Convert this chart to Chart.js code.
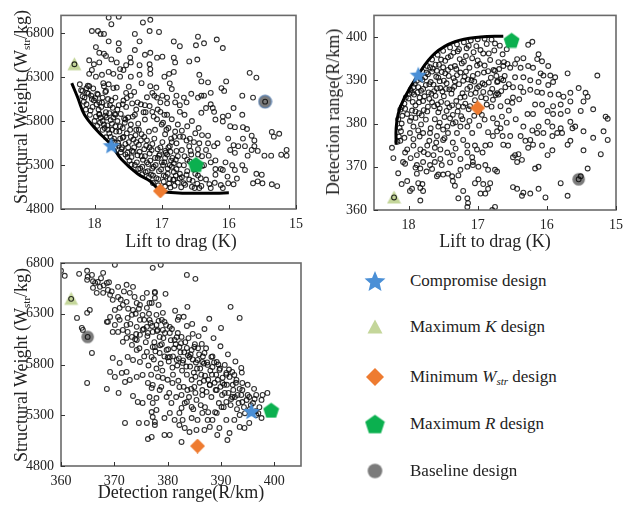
<!DOCTYPE html>
<html>
<head>
<meta charset="utf-8">
<script src="https://cdn.jsdelivr.net/npm/chart.js@4.4.1/dist/chart.umd.min.js"></script>
<style>
body { margin: 0; background: #fff; }
#wrap { position: relative; width: 630px; height: 505px; font-family: 'Liberation Serif', serif; color: #222; }
canvas.plot { position: absolute; }
.xt { position: absolute; transform: translateX(-50%); white-space: nowrap; font-size: 18px; line-height: 1; }
.yt { position: absolute; transform: translate(-50%, -50%) rotate(-90deg); white-space: nowrap; font-size: 18px; line-height: 1; }
.leg { position: absolute; left: 410px; font-size: 17px; line-height: 20px; white-space: nowrap; }
.legmark { position: absolute; left: 363px; }
sub { font-size: 11px; vertical-align: -3px; line-height: 0; }
</style>
</head>
<body>
<div id="wrap">
  <canvas id="chartKW" class="plot" width="310" height="235" style="left:0;top:0"></canvas>
  <canvas id="chartKR" class="plot" width="315" height="235" style="left:315px;top:0"></canvas>
  <canvas id="chartRW" class="plot" width="310" height="260" style="left:0;top:245px"></canvas>

  <div class="yt" style="left:21px;top:107px">Structural Weight (W<sub>str</sub>/kg)</div>
  <div class="xt" style="left:181px;top:232px">Lift to drag (K)</div>
  <div class="yt" style="left:333px;top:112px">Detection range(R/km)</div>
  <div class="xt" style="left:495px;top:232px">Lift to drag (K)</div>
  <div class="yt" style="left:21px;top:365px">Structural Weight (W<sub>str</sub>/kg)</div>
  <div class="xt" style="left:181px;top:483px">Detection range(R/km)</div>

  <div id="legend"></div>
</div>

<script>
    // tick labels
    const liftTicks = [18, 17, 16, 15];
    const weightTicks = [4800, 5300, 5800, 6300, 6800];
    const rangeTicks = [360, 370, 380, 390, 400];

    // special designs: compromise, max K, min Wstr, max R, baseline
    const designKW = [[17.75, 5525], [18.30, 6445], [17.02, 5005], [16.49, 5309], [15.46, 6020]];
    const designKR = [[17.86, 391.3], [18.21, 362.9], [17.00, 383.6], [16.51, 399.3], [15.54, 367.1]];
    const designRW = [[395.7, 5342], [361.9, 6447], [385.6, 4997], [399.4, 5352], [365.0, 6072]];

    // pareto fronts
    const frontKW = [[18.34, 6230], [18.25, 6065], [18.15, 5870], [17.96, 5690], [17.75, 5525], [17.60, 5365],
        [17.36, 5200], [17.17, 5115], [17.02, 5010], [16.80, 4985], [16.50, 4978], [16.20, 4980], [16.00, 4985]];
    const frontKR = [[18.18, 375.1], [18.18, 378.9], [18.15, 382.2], [18.07, 385.6], [17.86, 391.3],
        [17.62, 396.2], [17.33, 398.9], [16.96, 400.0], [16.63, 400.2]];

    // population: lift to drag vs structural weight
    const ptsKW = [
        [17.79,6975],[17.64,6986],[17.75,6900],[18.04,6823],[17.95,6823],[17.91,6790],[17.86,6790],[17.28,6920],[17.17,6950],[17.18,6823],
        [17.40,6790],[17.79,6705],[17.64,6683],[17.33,6705],[17.98,6640],[17.93,6575],[17.86,6565],[17.83,6540],[17.75,6500],[17.64,6607],
        [17.40,6607],[17.47,6520],[17.25,6553],[17.17,6575],[18.08,6490],[18.01,6445],[17.93,6466],[18.04,6380],[17.67,6466],[17.62,6390],
        [17.57,6380],[17.53,6434],[17.46,6466],[17.33,6434],[17.18,6445],[18.08,6336],[17.98,6304],[17.89,6325],[17.79,6358],[17.72,6336],
        [17.62,6304],[17.46,6304],[17.33,6325],[17.17,6336],[18.22,6217],[18.12,6174],[18.11,6120],[18.05,6088],[18.01,6033],[17.93,6012],
        [17.83,6142],[17.79,6217],[17.72,6174],[17.69,6066],[17.53,6120],[17.46,6088],[17.36,6012],[17.25,5980],[17.17,6196],[17.11,6088],
        [17.93,5871],[17.82,5840],[17.69,5871],[17.54,5817],[17.40,5871],[17.25,5817],[17.14,5904],
        [18.18,6142],[18.15,6066],[18.08,6196],[17.96,6109],[17.88,6066],[17.86,6196],[17.75,6033],[17.64,5980],[17.57,6033],
        [17.04,6812],[16.46,6758],[16.82,6704],[16.73,6650],[16.49,6661],[16.37,6683],[16.18,6726],[16.09,6629],[17.07,6520],[16.99,6531],
        [16.82,6520],[16.80,6466],[16.59,6477],[16.47,6499],[17.17,6390],[16.96,6304],[16.89,6336],[16.82,6358],[16.88,6228],[16.85,6163],
        [16.44,6325],[16.41,6250],[16.31,6239],[16.04,6250],[16.11,6174],[16.07,6142],[15.69,6347],[15.59,6293],[17.14,6120],[17.07,6066],
        [16.99,6088],[16.92,6066],[16.78,6088],[16.67,6066],[16.56,6109],[16.46,6066],[16.41,6088],[16.37,6088],[16.27,6120],[15.80,6088],
        [15.64,6066],[17.02,6012],[16.92,6001],[16.80,6012],[16.73,5980],[16.63,6012],[16.27,5990],[16.34,5947],[16.24,5947],[15.93,5947],
        [15.80,5871],[16.41,5893],[16.22,5904],[16.01,5860],[16.09,5850],[17.02,5904],[16.92,5871],[16.73,5904],[16.66,5871],
        [16.31,5633],[16.22,5514],[16.17,5547],[16.01,5600],[15.98,5471],[15.93,5525],[15.91,5438],[15.86,5514],[15.79,5600],[15.76,5514],
        [15.72,5406],[15.66,5471],[15.62,5514],[15.36,5676],[15.33,5622],[15.25,5655],[15.14,5471],[15.14,5406],[15.22,5417],[15.37,5406],
        [15.47,5406],[15.57,5460],[15.62,5579],[15.66,5633],[15.73,5709],[15.79,5730],[15.91,5730],[15.98,5741],[16.09,5795],[16.20,5817],
        [16.05,5330],[16.12,5254],[15.95,5298],[15.91,5244],[15.80,5298],[15.76,5244],[15.59,5200],[15.51,5190],[15.50,5092],[15.64,5092],
        [15.57,5114],[15.36,5081],[15.28,5060],[15.88,5146],[16.02,5168],[16.01,5092],[15.93,5081],[16.09,5038],[16.27,5038],[16.34,5135],
        [16.59,5135],[16.67,5092],[16.73,5200],[16.63,5190],[16.51,5038],[16.44,5038],[16.34,5471],[16.30,5406],[16.27,5330],[16.37,5298],
        [16.20,5254],[16.20,5190],[16.09,5244],[16.20,5352],[16.31,5547],[16.44,5547],[16.59,5514],[16.63,5579],[16.73,5622],[16.78,5547],
        [16.88,5514],[16.95,5460],[17.04,5406],[16.96,5330],[16.88,5298],[16.78,5254],[16.67,5298],[16.73,5146],[16.82,5135],
        [16.98,5780],[16.90,5720],[16.85,5820],[16.76,5760],[16.70,5690],[16.62,5740],[16.55,5800],[16.50,5660],[16.45,5720],[16.40,5640],
        [16.95,5650],[16.86,5600],[16.80,5680],[16.68,5620],[16.58,5600],[16.52,5560],[16.46,5480],[16.40,5400],[16.56,5420],[16.62,5360],
        [16.52,5250],[16.46,5180],[16.40,5290],[16.57,5460],[16.92,5420],[16.84,5380],[16.76,5400],[16.70,5470],
        [18.18,6080],[18.12,5990],[18.06,5920],[18.02,6170],[17.98,5850],[17.95,6100],[17.92,5780],[17.90,5960],[17.87,6230],[17.85,5720],
        [17.83,5900],[17.80,6050],[17.78,5660],[17.76,5810],[17.73,5950],[17.71,5600],[17.69,5740],[17.67,6180],[17.65,5550],[17.63,5680],
        [17.61,5880],[17.59,5500],[17.57,5620],[17.55,5780],[17.53,5960],[17.51,5440],[17.49,5560],[17.47,5700],[17.45,5390],[17.43,5850],
        [17.41,5500],[17.39,5640],[17.37,5330],[17.35,5770],[17.33,5450],[17.31,5580],[17.29,5280],[17.27,5900],[17.25,5400],[17.23,5520],
        [17.21,5230],[17.19,5680],[17.17,5350],[17.15,5470],[17.13,5180],[17.11,5600],[17.09,5300],[17.07,5820],[17.05,5140],[17.03,5420],
        [17.01,5250],[16.99,5560],[16.97,5110],[16.95,5380],[16.93,5700],[16.91,5200],[16.89,5090],[16.87,5450],[16.85,5280],[16.83,5130],
        [16.81,5620],[16.79,5360],
        [18.10,6200],[18.04,6050],[17.97,5990],[17.93,5880],[17.88,5800],[17.84,6130],[17.81,5750],[17.77,5980],[17.74,5700],[17.70,5880],
        [17.66,5800],[17.62,5600],[17.58,5720],[17.54,5540],[17.50,5840],[17.46,5620],[17.42,5450],[17.38,5560],[17.34,5700],[17.30,5400],
        [17.26,5620],[17.22,5330],[17.18,5500],[17.14,5260],[17.10,5700],[17.06,5380],[17.02,5500],[16.98,5300],[16.94,5170],[16.90,5500],
        [16.86,5350],[16.82,5220],[16.78,5460],[16.74,5300],[16.70,5160],[16.66,5400],[16.62,5230],[16.58,5340],[16.54,5120],[16.50,5200],
        [16.46,5420],[16.42,5150],
        [17.96,5745],[17.88,5700],[17.83,5615],[17.74,5575],[17.69,5505],[17.61,5445],[17.51,5390],[17.45,5305],[17.35,5255],[17.29,5195],
        [17.19,5160],[17.13,5095],[17.05,5070],[16.95,5055],[16.87,5045],[16.81,5065],[16.71,5048],[16.65,5075],[16.55,5052],[16.47,5088],
        [16.41,5062],[16.29,5083],[16.21,5098],[16.12,5072],
        [18.20,6150],[18.16,6020],[18.13,5930],[18.09,6110],[18.07,5870],[18.03,5960],[18.00,5800],[17.99,6060],[17.94,5930],[17.91,5840],
        [17.89,6010],[17.86,5760],[17.84,5860],[17.82,5980],[17.80,5700],[17.78,5890],[17.76,5620],[17.74,5770],[17.72,5840],[17.70,5560],
        [17.68,5680],[17.66,5930],[17.64,5520],[17.62,5740],[17.60,5480],[17.58,5610],[17.56,5830],[17.54,5420],[17.52,5660],[17.50,5500],
        [17.48,5350],[17.46,5760],[17.44,5460],[17.42,5590],[17.40,5300],[17.38,5700],[17.36,5410],[17.34,5530],[17.32,5260],[17.30,5650],
        [17.28,5360],[17.26,5480],[17.24,5220],[17.22,5580],[17.20,5310],[17.18,5430],[17.16,5190],[17.14,5540],[17.12,5280],[17.10,5380],
        [17.08,5150],[17.06,5480],[17.04,5230],[17.00,5330],[16.97,5180],[16.94,5440],[16.91,5260],[16.88,5140],[16.85,5560],[16.82,5320],
        [16.79,5180],[16.76,5100],[17.58,5990],[17.52,6060],[17.44,6000],[17.38,5930],[17.31,5990],[17.24,5900],[17.18,5970],[17.12,5850],
        [17.06,5930],[17.00,5760],[16.96,5870],[17.49,6190],[17.41,6130],[17.30,6230],[17.22,6070],[17.08,6180],
        [18.30,6445],[15.46,6020]
    ];

    // population: lift to drag vs detection range
    const ptsKR = [
        [16.21,398.9],[16.27,398.2],[16.12,396.0],[16.14,394.9],[16.07,394.4],[16.34,395.1],[16.43,394.9],[16.46,393.8],[16.57,393.8],[16.63,393.3],
        [16.53,392.9],[16.38,392.9],[16.27,393.3],[16.20,392.9],[16.09,391.6],[16.05,391.1],[15.98,393.3],[15.95,391.1],[15.88,390.7],[15.70,391.6],
        [15.27,391.1],[15.98,388.9],[15.91,389.6],[16.12,389.6],[16.24,390.0],[16.34,390.7],[16.46,390.7],[16.63,390.0],[16.75,392.2],[16.72,389.6],
        [16.60,388.4],[16.49,388.4],[16.38,388.4],[16.34,387.3],[16.24,387.8],[16.14,387.3],[16.07,387.1],[15.95,386.7],[15.83,386.7],[15.76,386.2],
        [15.66,387.1],[15.54,388.2],[15.44,387.1],[15.41,386.2],[15.47,385.1],[15.66,385.1],[15.80,384.4],[15.91,384.0],[16.07,384.4],[16.17,384.4],
        [16.28,382.2],[16.20,382.2],[15.99,382.9],[15.91,382.2],[15.80,382.2],[15.70,382.9],[15.51,382.9],[15.33,383.3],[15.15,381.6],[16.49,386.0],
        [16.57,385.1],[16.70,386.7],[16.82,387.1],[16.92,387.3],[17.01,388.2],
        [15.12,381.1],[15.18,378.2],[15.12,376.2],[15.33,376.7],[15.47,378.2],[15.59,379.3],[15.63,378.9],[15.66,380.4],[15.80,378.9],[15.70,375.1],
        [15.66,376.0],[15.47,373.8],[15.22,372.9],[15.41,369.6],[15.51,367.8],[15.80,366.2],[15.70,363.3],[15.92,373.8],[15.99,372.7],[16.12,370.0],
        [16.17,369.6],[16.12,364.9],[16.24,363.8],[16.34,364.0],[16.36,363.3],[16.43,364.9],[16.49,365.3],[16.02,362.9],[16.07,374.9],[16.20,375.1],
        [16.27,374.4],[16.24,376.2],[16.14,377.8],[16.12,379.3],[16.05,377.8],[15.92,377.1],[15.85,377.8],[15.78,377.8],[15.92,379.3],[15.99,380.4],
        [16.21,378.4],[16.34,379.3],[16.38,377.1],[16.31,376.0],[16.46,372.7],[16.41,372.9],[16.36,371.6],[16.43,371.1],[16.49,372.2],[16.56,374.9],
        [16.63,375.1],[16.53,377.1],[16.64,377.1],[16.72,378.2],[16.67,378.9],[16.78,377.1],[16.82,375.1],[16.89,374.9],[16.93,373.3],[17.04,374.9],
        [17.07,371.1],[16.99,370.0],[16.89,370.4],[16.85,369.3],[16.75,369.3],[16.72,368.9],[16.99,367.1],[17.04,366.2],[16.92,366.0],[16.85,364.9],
        [16.82,366.2],[16.96,363.8],[16.89,363.8],[16.75,360.7],[16.79,360.0],
        [18.24,374.4],[18.05,373.3],[18.08,371.1],[18.05,370.7],[18.02,366.7],[17.95,364.9],[17.98,364.4],[17.86,366.2],[17.83,365.1],[17.80,366.0],
        [17.79,364.4],[17.83,362.2],[17.59,367.8],[17.57,368.2],[17.50,368.2],[17.43,368.4],[17.37,367.8],[17.36,366.7],[17.33,365.6],[17.21,364.4],
        [17.15,362.7],[17.14,361.6],[17.15,360.7],[17.28,362.7],[17.88,368.4],[17.83,369.6],[17.88,370.4],[17.79,371.1],[17.69,370.4],[17.62,371.1],
        [17.54,371.8],[17.64,372.7],[17.72,372.9],[17.88,372.7],[17.93,374.9],[17.83,374.0],[17.73,374.9],[17.62,374.4],[17.54,374.0],[17.44,373.3],
        [17.36,372.7],[17.25,371.8],[17.15,373.3],[17.08,372.2],[17.07,370.4],[17.15,370.0],[17.25,369.3],[17.01,374.0],[17.98,377.8],[17.93,379.3],
        [17.86,378.4],[17.79,377.8],[17.69,377.8],[17.57,379.3],[17.59,377.1],[17.50,376.2],[17.43,377.8],[17.30,377.8],[17.21,376.2],[17.15,374.9],
        [17.36,375.6],[17.44,379.3],[17.36,380.0],[17.25,379.3],[17.15,379.3],[17.08,377.8],
        [18.15,381.0],[18.13,379.0],[18.14,377.0],[18.12,376.0],[18.10,380.0],[18.11,378.2],[18.16,375.8],[18.09,381.8],[18.12,383.2],
        [18.22,372.0],[18.15,368.5],[18.10,366.0],
        [18.10,383.8],[18.04,386.0],[17.97,387.8],[17.91,389.2],[17.80,392.0],[17.73,393.3],[17.66,394.8],[17.58,395.9],[17.50,396.8],[17.40,397.6],
        [17.30,398.3],[17.20,398.8],[17.10,399.2],[17.00,399.5],[16.90,399.6],[16.80,399.4],
        [18.05,383.4],[18.00,385.8],[17.95,387.1],[17.90,384.2],[17.86,388.4],[17.84,386.0],[17.80,390.1],[17.78,383.1],[17.75,388.9],[17.72,391.4],
        [17.70,385.7],[17.68,389.6],[17.65,392.7],[17.63,387.5],[17.60,390.8],[17.58,384.4],[17.56,393.6],[17.54,388.2],[17.52,391.9],[17.49,386.3],
        [17.47,394.5],[17.45,389.3],[17.43,392.4],[17.41,383.8],[17.39,395.6],[17.37,387.9],[17.35,390.5],[17.33,393.3],[17.31,385.2],[17.29,396.7],
        [17.27,389.1],[17.25,391.8],[17.22,387.0],[17.20,394.3],[17.18,384.6],[17.16,397.4],[17.14,390.2],[17.12,392.9],[17.10,386.8],[17.08,395.1],
        [17.05,389.7],[17.02,397.9],[17.00,391.5],[16.97,393.8],[16.95,386.1],[16.92,396.2],[16.90,389.0],[16.87,398.4],[16.85,392.1],[16.82,394.7],
        [16.79,388.0],[16.76,396.9],[16.73,391.0],[16.70,394.2],[16.68,398.0],[16.66,387.5],
        [17.95,383.0],[17.92,386.7],[17.88,389.9],[17.85,382.4],[17.82,387.6],[17.79,385.2],[17.76,390.7],[17.73,382.8],[17.71,387.2],[17.69,393.0],
        [17.66,384.9],[17.64,389.0],[17.61,386.4],[17.59,392.2],[17.57,382.6],[17.55,389.8],[17.53,385.0],[17.50,393.0],[17.48,381.5],[17.46,388.0],
        [17.44,384.7],[17.42,391.0],[17.38,386.9],[17.36,382.0],[17.34,388.5],[17.30,391.2],[17.28,384.0],[17.26,394.9],[17.24,381.7],[17.21,389.9],
        [17.19,386.2],[17.17,392.0],[17.13,383.3],[17.11,388.5],[17.07,391.0],[17.04,385.4],[17.01,393.4],[16.98,388.6],[16.94,382.0],[16.91,391.8],
        [16.88,385.8],[16.84,389.5],[16.80,383.9],[16.77,392.4],[16.74,386.6],[16.71,389.8],[16.67,384.0],[16.64,396.0],[16.61,391.0],
        [17.98,380.6],[17.90,381.3],[17.82,379.8],[17.75,380.9],[17.68,378.9],[17.62,381.0],[17.55,380.2],[17.50,378.6],[17.40,381.2],[17.32,380.3],
        [17.22,381.0],[17.12,380.6],[17.05,381.8],[16.98,379.5],[16.90,380.9],[16.85,378.0],[16.78,381.2],[16.72,380.0],[16.65,381.6],[16.58,380.2],
        [16.55,383.0],[16.50,384.8],[16.45,381.0],[16.40,385.6],
        [18.06,384.6],[18.02,382.2],[17.99,386.9],[17.96,381.4],[17.94,385.0],[17.93,388.4],[17.90,382.8],[17.87,387.2],[17.85,384.9],[17.83,390.4],
        [17.81,381.9],[17.79,388.0],[17.77,386.3],[17.74,391.8],[17.72,383.9],[17.70,389.1],[17.67,386.9],[17.66,392.0],[17.63,384.0],[17.61,393.6],
        [17.59,388.1],[17.57,390.6],[17.55,383.5],[17.53,394.8],[17.51,387.4],[17.49,389.9],[17.47,391.6],[17.45,382.9],[17.43,395.3],[17.41,387.9],
        [17.39,393.0],[17.37,384.2],[17.35,396.4],[17.33,389.8],[17.31,392.6],[17.29,382.8],[17.27,397.2],[17.25,386.0],[17.23,393.9],[17.21,383.9],
        [17.19,390.8],[17.17,395.6],[17.15,388.0],[17.13,398.0],[17.11,384.0],[17.09,390.0],[17.06,396.5],[17.03,387.1],[17.00,394.6],[16.98,382.7],
        [16.96,397.0],[16.93,389.3],[16.90,393.4],[16.87,384.4],[16.84,396.2],[16.81,390.6],[16.78,385.5],[16.75,398.5],[16.72,387.0],[16.69,392.6],
        [16.66,390.3],[16.62,394.2],[16.58,397.2],[16.55,389.1],
        [18.06,376.7],[18.02,374.0],[17.97,372.0],[17.93,376.4],[17.90,369.8],[17.84,377.0],[17.78,373.4],[17.74,368.9],[17.70,376.0],[17.66,369.5],
        [17.60,375.6],[17.52,370.4],[17.48,376.6],[17.40,371.0],[17.32,374.2],[17.28,368.0],
        [18.21,362.9],[15.54,367.1]
    ];

    // population: detection range vs structural weight
    const ptsRW = [
        [360.0,6723],[360.7,6674],[363.4,6693],[364.9,6723],[365.8,6683],[365.0,6664],[364.9,6634],[366.9,6614],[367.9,6703],[370.1,6782],
        [366.4,6604],[367.3,6565],[368.6,6604],[368.8,6535],[366.0,6555],[366.7,6506],[367.9,6506],[369.2,6486],[369.7,6437],[370.7,6466],
        [370.7,6565],[372.3,6585],[373.5,6565],[372.9,6506],[373.8,6466],[374.2,6407],[372.3,6417],[371.6,6387],[371.0,6358],[370.1,6338],
        [370.7,6269],[371.0,6240],[369.2,6269],[368.8,6220],[370.1,6190],[369.7,6121],[370.7,6121],[371.6,6141],[372.3,6190],[372.5,6259],
        [373.3,6289],[373.5,6338],[374.8,6387],[376.1,6358],[376.6,6407],[377.6,6456],[377.6,6516],[376.1,6506],[375.3,6456],[368.6,6220],
        [365.4,6338],[364.9,6309],[363.9,6161],[364.1,6141],[363.0,6259],[365.8,5914],[369.7,5865],[371.0,5816],[372.5,5875],[373.5,5845],
        [374.8,5825],[374.2,5944],[373.3,5993],[374.2,6042],[374.8,6092],[375.3,6141],[376.1,6171],[376.3,6111],[377.2,6121],[377.9,6190],
        [377.2,5973],[376.1,5924],[377.0,5875],[372.3,6062],[373.3,6072],[372.5,6121],[371.6,6023],[374.2,6171],[374.8,6240],[375.3,6289],
        [376.6,6240],[377.9,6289],
        [377.2,6752],[378.7,6782],[383.6,6683],[385.2,6644],[377.6,6506],[379.6,6496],[377.0,6407],[378.3,6387],[383.7,6368],[391.8,6368],
        [393.5,6259],[382.1,6269],[381.9,6240],[383.6,6180],[384.7,6102],[382.6,6072],[386.4,6003],[386.9,5914],[388.2,5875],[389.2,5825],
        [390.7,5796],[392.1,5727],[393.8,5766],[379.1,6309],[378.9,6240],[379.4,6220],[380.4,6171],[379.1,6141],[378.5,6072],[380.4,6111],
        [381.3,6042],[382.2,5973],[383.6,5963],[384.5,5944],[385.0,5973],[384.1,5875],[385.6,5845],[386.5,5825],[387.5,5796],[388.4,5776],
        [389.7,5747],[391.0,5717],[392.5,5697],[382.8,5816],[381.7,5845],[380.4,5875],[379.8,5944],[378.5,5914],[377.6,5973],[378.1,6141],
        [364.9,5618],[368.6,5559],[370.8,5520],[373.5,5490],[374.4,5431],[375.3,5421],[372.0,5224],[374.6,5224],[376.1,5224],[376.3,5066],
        [369.2,5727],[370.1,5678],[371.4,5717],[372.3,5727],[372.0,5628],[372.9,5648],[374.2,5678],[375.3,5697],[376.3,5618],[377.0,5569],
        [376.6,5480],[377.2,5421],[377.0,5332],[377.2,5283],[377.6,5234],
        [377.2,5599],[378.5,5549],[379.8,5480],[380.7,5421],[380.4,5323],[379.4,5273],[381.3,5254],[382.2,5323],[382.6,5372],[383.6,5431],
        [384.5,5382],[385.4,5451],[386.5,5323],[387.5,5254],[385.6,5254],[384.5,5273],[382.8,5254],[382.2,5204],[383.2,5175],[384.1,5135],
        [385.4,5155],[386.9,5155],[387.9,5185],[388.4,5254],[389.2,5323],[390.1,5382],[391.0,5431],[392.1,5480],[393.1,5500],[394.0,5549],
        [395.3,5480],[396.6,5500],[397.8,5500],[398.7,5520],[397.6,5451],[396.6,5303],[397.6,5273],[393.5,5303],[392.5,5254],[391.0,5254],
        [389.7,5175],[391.2,5056],[389.3,5106],[379.4,5106],[380.4,5106],[382.6,5037],[377.9,5352],[377.9,5470],[377.6,5204],[377.0,5086],
        [391.6,5125],[394.4,5175],[395.3,5224],[393.5,5185],[389.2,5549],[390.3,5618],[391.6,5678],[392.9,5648],[394.0,5618],[387.9,5599],
        [386.5,5549],[385.0,5579],[383.7,5549],[382.2,5579],[380.9,5618],[379.1,5668],[382.6,5500],
        [375.5,6150],[376.2,6080],[376.8,6210],[377.5,6020],[378.0,6130],[378.6,5990],[379.2,6060],[379.7,6190],[380.1,5950],[380.6,6040],
        [381.0,5880],[381.5,6000],[381.9,6110],[382.4,5920],[382.9,5840],[383.3,6020],[383.8,5890],[384.2,5780],[384.7,5850],[385.1,6000],
        [385.5,5760],[385.9,5900],[386.3,5700],[386.8,5810],[387.2,5960],[387.6,5650],[388.0,5740],[388.4,5880],[388.8,5620],[389.1,5700],
        [389.5,5800],[389.9,5580],[390.3,5670],[390.7,5520],[391.1,5600],[391.5,5750],[391.9,5460],[392.3,5550],[392.8,5620],[393.3,5420],
        [393.8,5500],[394.3,5380],[394.8,5450],[395.4,5360],[396.0,5420],[396.5,5340],[397.2,5380],[386.0,5620],[385.2,5680],[384.5,5650],
        [383.6,5700],[382.7,5740],[381.8,5790],[380.9,5770],[380.2,5830],[379.4,5880],[378.7,5810],[377.9,5760],[388.2,5480],[387.3,5530],
        [386.5,5500],[389.6,5420],[390.5,5380],[388.9,5330],[387.0,5380],[384.0,5480],[383.0,5580],[382.0,5640],[385.8,6080],[386.9,6150],
        [388.6,6060],[389.9,5980],[391.3,5900],[392.7,5830],[393.9,5720],[395.0,5600],[396.2,5560],[384.6,6200],[383.0,6270],[381.4,6330],
        [387.8,6250],[390.0,6160],
        [366.0,6620],[368.0,6580],[369.5,6520],[371.2,6440],[372.6,6350],[374.0,6300],[375.6,6240],[367.5,6650],[369.0,6610],[371.8,6520],
        [373.0,6200],[374.1,6100],[374.6,6350],[375.9,6020],[376.5,6300],[377.1,6180],[377.7,5930],[378.3,6230],[378.9,6000],[379.5,6110],
        [380.0,5870],[380.8,6150],[381.2,5960],[381.7,6070],[382.1,5860],[382.5,6010],[383.1,5920],[383.5,5780],[383.9,6060],[384.3,5900],
        [384.9,5720],[385.3,5820],[385.7,5960],[386.1,5760],[386.6,5880],[387.0,5690],[387.4,5820],[387.9,5600],[388.3,5700],[388.7,5820],
        [389.0,5550],[389.4,5650],[389.8,5760],[390.2,5500],[390.6,5600],[391.0,5700],[391.4,5520],[391.8,5400],[392.2,5600],[392.6,5480],
        [393.0,5360],[393.5,5560],[394.0,5430],[394.5,5320],[395.0,5500],[395.6,5400],[396.3,5460],[397.0,5320],[381.0,5700],[380.0,5650],
        [379.0,5740],[378.2,5680],[377.4,5850],[376.4,5790],[375.6,5880],[374.7,5960],[373.9,6050],[376.9,5700],[378.8,5580],[380.3,5520],
        [381.6,5480],[383.2,5420],[384.8,5360],[386.2,5400],[387.6,5330],[385.2,5520],[386.8,5640],[384.4,5560],
        [361.9,6447],[365.0,6072]
    ];

    // marker glyphs drawn onto small canvases, used as point styles
    function glyph(size, draw) {
        const c = document.createElement('canvas');
        c.width = size;
        c.height = size;
        draw(c.getContext('2d'), size / 2);
        return c;
    }
    function star(size, color) {
        return glyph(size, (g, r) => {
            g.beginPath();
            for (let i = 0; i < 10; i++) {
                const a = -Math.PI / 2 + i * Math.PI / 5;
                const rr = i % 2 ? r * 0.45 : r;
                g.lineTo(r + rr * Math.cos(a), r + 1 + rr * Math.sin(a));
            }
            g.closePath();
            g.fillStyle = color;
            g.fill();
        });
    }
    function pentagon(size, color) {
        return glyph(size, (g, r) => {
            g.beginPath();
            for (let i = 0; i < 5; i++) {
                const a = -Math.PI / 2 + i * 2 * Math.PI / 5;
                g.lineTo(r + r * 0.98 * Math.cos(a), r + 1 + r * 0.98 * Math.sin(a));
            }
            g.closePath();
            g.fillStyle = color;
            g.fill();
        });
    }
    function triangle(size, color) {
        return glyph(size, (g, r) => {
            g.beginPath();
            g.moveTo(r, 0.5);
            g.lineTo(size - 0.5, size - 1.5);
            g.lineTo(0.5, size - 1.5);
            g.closePath();
            g.fillStyle = color;
            g.fill();
        });
    }
    function diamond(size, color) {
        return glyph(size, (g, r) => {
            g.beginPath();
            g.moveTo(r, 0);
            g.lineTo(size, r);
            g.lineTo(r, size);
            g.lineTo(0, r);
            g.closePath();
            g.fillStyle = color;
            g.fill();
        });
    }
    function disc(size, color, ring) {
        return glyph(size, (g, r) => {
            g.beginPath();
            g.arc(r, r, r - 1.2, 0, Math.PI * 2);
            g.fillStyle = color;
            g.fill();
            if (ring) {
                g.lineWidth = 1.4;
                g.strokeStyle = ring;
                g.stroke();
            }
        });
    }

    const blue = '#4a8fd6', olive = '#c4d69a', orange = '#ee7b30', green = '#0bb04f', grey = '#7b7b7b';

    function designStyles(ring) {
        return [star(18, blue), triangle(15, olive), diamond(15, orange), pentagon(17, green), disc(15, grey, ring)];
    }

    // frame round the plot area plus short inward ticks
    const frameTicks = {
        id: 'frameTicks',
        afterDraw(chart) {
            const { ctx, chartArea: a, scales } = chart;
            ctx.save();
            ctx.strokeStyle = '#6a6a6a';
            ctx.lineWidth = 1.6;
            ctx.strokeRect(a.left, a.top, a.right - a.left, a.bottom - a.top);
            ctx.strokeStyle = '#333';
            ctx.lineWidth = 1;
            ctx.beginPath();
            scales.x.ticks.forEach(t => {
                const px = Math.round(scales.x.getPixelForValue(t.value)) + 0.5;
                ctx.moveTo(px, a.bottom);
                ctx.lineTo(px, a.bottom - 4);
            });
            scales.y.ticks.forEach(t => {
                const py = Math.round(scales.y.getPixelForValue(t.value)) + 0.5;
                ctx.moveTo(a.left, py);
                ctx.lineTo(a.left + 4, py);
            });
            ctx.stroke();
            ctx.restore();
        }
    };

    Chart.defaults.font.family = "'Liberation Serif', serif";
    Chart.defaults.color = '#222';

    function axis(min, max, ticks, reverse, fit) {
        return {
            type: 'linear',
            min: min,
            max: max,
            reverse: reverse,
            grid: { display: false, drawTicks: false },
            border: { display: false },
            afterBuildTicks: s => { s.ticks = ticks.map(v => ({ value: v })); },
            afterFit: fit,
            ticks: {
                font: { size: 14 },
                color: '#222',
                padding: 7,
                autoSkip: false,
                maxRotation: 0,
                callback: v => String(v)
            }
        };
    }

    function makePlot(id, pts, front, designs, ring, xCfg, yCfg, padding) {
        const styles = designStyles(ring);
        const datasets = [{
            data: pts,
            pointRadius: 2.4,
            pointBorderWidth: 1.1,
            pointBorderColor: 'rgba(10,10,10,0.85)',
            pointBackgroundColor: 'rgba(0,0,0,0)',
            order: 4
        }];
        if (front) {
            datasets.push({
                data: front,
                showLine: true,
                borderColor: '#000',
                borderWidth: 3,
                pointRadius: 0,
                tension: 0.4,
                order: 3
            });
        }
        designs.forEach((d, i) => {
            const under = i === 1 || i === 4;
            datasets.push({
                data: [d],
                pointStyle: styles[i],
                pointRadius: 8,
                order: under ? 5 : 1
            });
        });
        return new Chart(document.getElementById(id), {
            type: 'scatter',
            data: { datasets: datasets },
            options: {
                responsive: false,
                animation: false,
                events: [],
                layout: { padding: padding },
                plugins: { legend: { display: false }, tooltip: { enabled: false } },
                scales: { x: xCfg, y: yCfg }
            },
            plugins: [frameTicks]
        });
    }

    makePlot('chartKW', ptsKW, frontKW, designKW, 'rgba(80,120,170,0.8)',
        axis(15, 18.5, liftTicks, true, s => { s.height = 26; }),
        axis(4800, 7000, weightTicks, false, s => { s.width = 61; }),
        { top: 7, right: 8, left: 0, bottom: 0 });

    makePlot('chartKR', ptsKR, frontKR, designKR, null,
        axis(15, 18.5, liftTicks, true, s => { s.height = 25; }),
        axis(360, 405, rangeTicks, false, s => { s.width = 59; }),
        { top: 8, right: 14, left: 0, bottom: 0 });

    makePlot('chartRW', ptsRW, null, designRW, null,
        axis(360, 405, rangeTicks, false, s => { s.height = 39; }),
        axis(4800, 6800, weightTicks, false, s => { s.width = 61; }),
        { top: 18, right: 8, left: 0, bottom: 0 });

    // legend for the special designs
    const legendLabels = [
        'Compromise design',
        'Maximum <i>K</i> design',
        'Minimum <i>W<sub>str</sub></i> design',
        'Maximum <i>R</i> design',
        'Baseline design'
    ];
    const legendRows = [281, 327, 377, 424, 471];
    const legendGlyphs = [star(22, blue), triangle(16, olive), diamond(18, orange), pentagon(21, green), disc(17, grey)];

    const legend = document.getElementById('legend');
    legendLabels.forEach((label, i) => {
        const holder = document.createElement('canvas');
        holder.width = 24;
        holder.height = 24;
        holder.className = 'legmark';
        holder.style.top = (legendRows[i] - 12) + 'px';
        const g = legendGlyphs[i];
        holder.getContext('2d').drawImage(g, 12 - g.width / 2, 12 - g.height / 2);
        legend.appendChild(holder);

        const text = document.createElement('div');
        text.className = 'leg';
        text.style.top = (legendRows[i] - 10) + 'px';
        text.innerHTML = label;
        legend.appendChild(text);
    });
</script>
</body>
</html>
